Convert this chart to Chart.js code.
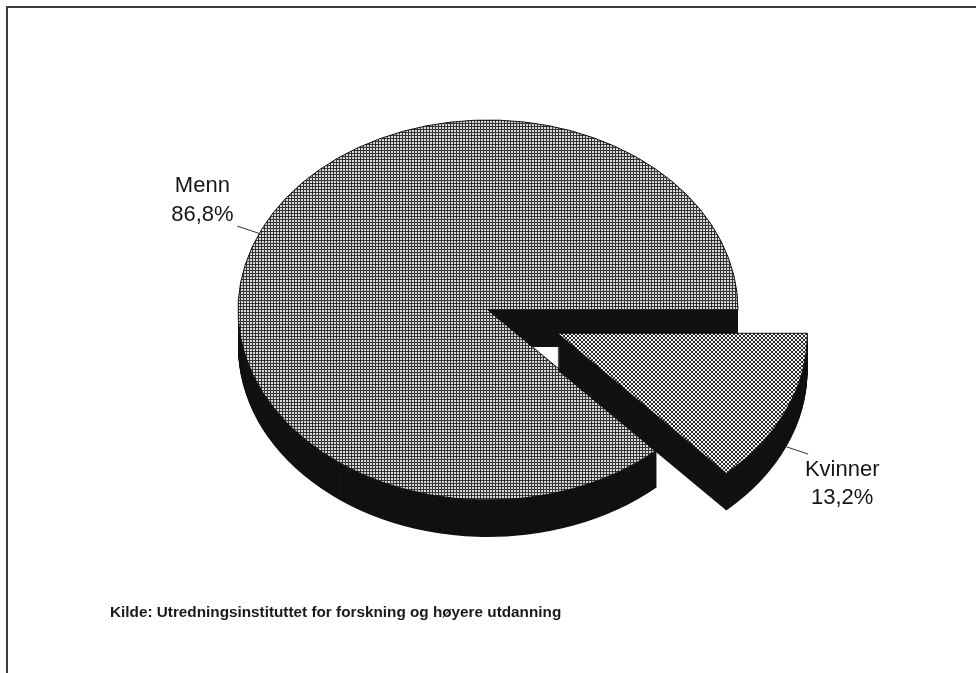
<!DOCTYPE html>
<html>
<head>
<meta charset="utf-8">
<script src="https://cdn.jsdelivr.net/npm/chart.js@4.4.0/dist/chart.umd.min.js"></script>
<style>
  html, body { margin: 0; padding: 0; background: #fff; }
  #wrap { position: relative; width: 976px; height: 673px; overflow: hidden; }
  #pie { position: absolute; left: 0; top: 0; }
  /* scanned page frame: only top and left edges are visible */
  #frame { position: absolute; left: 6px; top: 6px; right: -10px; bottom: -10px;
           border-top: 2px solid #3a3a3a; border-left: 2px solid #3a3a3a; }
  #source { position: absolute; left: 110px; top: 603px; white-space: nowrap;
            font: bold 15.3px "Liberation Sans", Arial, sans-serif; color: #1a1a1a; }
</style>
</head>
<body>
<div id="wrap">
  <canvas id="pie" width="976" height="673"></canvas>
  <div id="frame"></div>
  <div id="source">Kilde: Utredningsinstituttet for forskning og høyere utdanning</div>
</div>
<script>
// data
const categories = ['Kvinner', 'Menn'];
const shares = [13.2, 86.8];
const shareLabels = ['13,2%', '86,8%'];
const explode = [76, 0];

// look of the fake 3D pie
const TILT = 0.76;
const DEPTH = 37;
const SIDE_COLOR = '#111';

function makePattern(size, paint) {
  const c = document.createElement('canvas');
  c.width = size; c.height = size;
  const g = c.getContext('2d');
  paint(g);
  return g.createPattern(c, 'repeat');
}

// fine square grid (Menn)
const gridPattern = makePattern(3, g => {
  g.fillStyle = '#dadada';
  g.fillRect(0, 0, 3, 3);
  g.fillStyle = '#333';
  g.fillRect(0, 0, 3, 1);
  g.fillRect(0, 0, 1, 3);
});

// diagonal crosshatch (Kvinner)
const crossPattern = makePattern(4, g => {
  g.fillStyle = '#f2f2f2';
  g.fillRect(0, 0, 4, 4);
  g.fillStyle = '#2a2a2a';
  [[0, 0], [1, 1], [2, 2], [3, 3], [3, 0], [2, 1], [1, 2], [0, 3]].forEach(([x, y]) => g.fillRect(x, y, 1, 1));
});

function geom(arc) {
  const p = arc.getProps(['x', 'y', 'startAngle', 'endAngle', 'outerRadius'], true);
  p.off = arc.options.offset || 0;
  p.mid = (p.startAngle + p.endAngle) / 2;
  return p;
}

// builds the slice outline squashed vertically, shifted down by dy
function tracePath(ctx, arc, dy) {
  const p = geom(arc);
  ctx.save();
  ctx.translate(p.x, p.y + dy);
  ctx.scale(1, TILT);
  ctx.translate(Math.cos(p.mid) * p.off, Math.sin(p.mid) * p.off);
  ctx.beginPath();
  ctx.moveTo(0, 0);
  ctx.arc(0, 0, p.outerRadius, p.startAngle, p.endAngle);
  ctx.closePath();
  ctx.restore();
}

const pie3d = {
  id: 'pie3d',
  beforeDatasetsDraw(chart) {
    const ctx = chart.ctx;
    const arcs = chart.getDatasetMeta(0).data;
    // back slice first, exploded front slice last
    const order = arcs.map((a, i) => i).sort((a, b) => explode[a] - explode[b]);
    order.forEach(i => {
      const arc = arcs[i];
      ctx.save();
      ctx.fillStyle = SIDE_COLOR;
      for (let d = DEPTH; d >= 1; d--) {
        tracePath(ctx, arc, d);
        ctx.fill();
      }
      tracePath(ctx, arc, 0);
      ctx.fillStyle = arc.options.backgroundColor;
      ctx.fill();
      ctx.lineWidth = 1;
      ctx.strokeStyle = '#111';
      ctx.stroke();
      ctx.restore();
    });
    return false;
  },
  afterDraw(chart) {
    const ctx = chart.ctx;
    const arcs = chart.getDatasetMeta(0).data;
    ctx.save();
    ctx.font = '22px "Liberation Sans", Arial, sans-serif';
    ctx.fillStyle = '#151515';
    ctx.strokeStyle = '#333';
    ctx.lineWidth = 1;
    ctx.textAlign = 'center';
    arcs.forEach((arc, i) => {
      const p = geom(arc);
      const ux = Math.cos(p.mid), uy = Math.sin(p.mid) * TILT;
      const ex = p.x + ux * (p.off + p.outerRadius);
      let ey = p.y + uy * (p.off + p.outerRadius);
      if (uy > 0) ey += DEPTH;
      const len = Math.hypot(ux, uy);
      const lx = ex + ux / len * 23, ly = ey + uy / len * 23;
      ctx.beginPath();
      ctx.moveTo(ex, ey);
      ctx.lineTo(lx, ly);
      ctx.stroke();
      if (ux < 0) {
        ctx.fillText(categories[i], lx - 35, ly - 34);
        ctx.fillText(shareLabels[i], lx - 35, ly - 5);
      } else {
        ctx.fillText(categories[i], lx + 34, ly + 22);
        ctx.fillText(shareLabels[i], lx + 34, ly + 50);
      }
    });
    ctx.restore();
  }
};

new Chart(document.getElementById('pie'), {
  type: 'pie',
  data: {
    labels: categories,
    datasets: [{
      data: shares,
      backgroundColor: [crossPattern, gridPattern],
      borderWidth: 0,
      offset: explode
    }]
  },
  options: {
    responsive: false,
    animation: false,
    events: [],
    rotation: 90,
    radius: 250,
    layout: { padding: { left: 0, right: 0, top: 0, bottom: 53 } },
    plugins: {
      legend: { display: false },
      tooltip: { enabled: false }
    }
  },
  plugins: [pie3d]
});
</script>
</body>
</html>
